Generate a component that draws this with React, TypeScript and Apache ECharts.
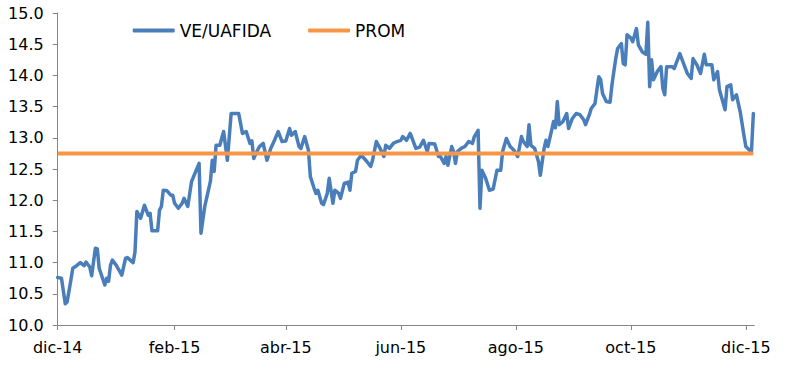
import React, { useEffect, useRef } from "react";
import * as echarts from "echarts";

const DATES = [
  "2014-12-01","2014-12-03","2014-12-05","2014-12-06","2014-12-08","2014-12-09","2014-12-11","2014-12-13","2014-12-15","2014-12-16",
  "2014-12-18","2014-12-19","2014-12-21","2014-12-22","2014-12-23","2014-12-26","2014-12-27","2014-12-28","2014-12-29","2014-12-30",
  "2015-01-01","2015-01-04","2015-01-06","2015-01-07","2015-01-10","2015-01-11","2015-01-12","2015-01-14","2015-01-16","2015-01-18",
  "2015-01-19","2015-01-20","2015-01-23","2015-01-24","2015-01-25","2015-01-26","2015-01-28","2015-01-30","2015-01-31","2015-02-01",
  "2015-02-03","2015-02-05","2015-02-06","2015-02-08","2015-02-10","2015-02-14","2015-02-15","2015-02-17","2015-02-20","2015-02-21",
  "2015-02-22","2015-02-23","2015-02-25","2015-02-27","2015-03-01","2015-03-03","2015-03-07","2015-03-09","2015-03-11","2015-03-13",
  "2015-03-14","2015-03-15","2015-03-17","2015-03-18","2015-03-20","2015-03-22","2015-03-24","2015-03-26","2015-03-28","2015-03-30",
  "2015-04-01","2015-04-03","2015-04-04","2015-04-06","2015-04-08","2015-04-09","2015-04-11","2015-04-13","2015-04-14","2015-04-16",
  "2015-04-17","2015-04-18","2015-04-20","2015-04-21","2015-04-23","2015-04-24","2015-04-26","2015-04-27","2015-04-29","2015-04-30",
  "2015-05-02","2015-05-04","2015-05-05","2015-05-06","2015-05-08","2015-05-09","2015-05-11","2015-05-14","2015-05-16","2015-05-17",
  "2015-05-19","2015-05-21","2015-05-23","2015-05-24","2015-05-26","2015-05-28","2015-05-30","2015-06-01","2015-06-02","2015-06-04",
  "2015-06-06","2015-06-08","2015-06-09","2015-06-11","2015-06-13","2015-06-15","2015-06-16","2015-06-19","2015-06-21","2015-06-22",
  "2015-06-24","2015-06-25","2015-06-26","2015-06-28","2015-06-29","2015-06-30","2015-07-01","2015-07-03","2015-07-05","2015-07-07",
  "2015-07-09","2015-07-10","2015-07-12","2015-07-13","2015-07-14","2015-07-16","2015-07-18","2015-07-20","2015-07-22","2015-07-24",
  "2015-07-25","2015-07-27","2015-07-29","2015-07-31","2015-08-02","2015-08-04","2015-08-05","2015-08-07","2015-08-08","2015-08-09",
  "2015-08-11","2015-08-13","2015-08-14","2015-08-16","2015-08-17","2015-08-18","2015-08-20","2015-08-21","2015-08-22","2015-08-23",
  "2015-08-24","2015-08-26","2015-08-28","2015-08-29","2015-08-31","2015-09-02","2015-09-04","2015-09-06","2015-09-07","2015-09-09",
  "2015-09-10","2015-09-12","2015-09-14","2015-09-15","2015-09-16","2015-09-18","2015-09-20","2015-09-21","2015-09-23","2015-09-24",
  "2015-09-26","2015-09-27","2015-09-28","2015-09-29","2015-10-01","2015-10-02","2015-10-04","2015-10-05","2015-10-07","2015-10-09",
  "2015-10-10","2015-10-11","2015-10-12","2015-10-13","2015-10-15","2015-10-17","2015-10-18","2015-10-19","2015-10-20","2015-10-23",
  "2015-10-24","2015-10-27","2015-10-29","2015-10-31","2015-11-02","2015-11-03","2015-11-05","2015-11-07","2015-11-09","2015-11-10",
  "2015-11-13","2015-11-14","2015-11-16","2015-11-17","2015-11-20","2015-11-21","2015-11-23","2015-11-24","2015-11-26","2015-11-28",
  "2015-11-30","2015-12-01","2015-12-03","2015-12-04","2015-12-05",
];

const VE_UAFIDA = [
  10.76,10.75,10.34,10.37,10.72,10.91,10.95,11.00,10.95,11.01,
  10.93,10.79,11.23,11.22,10.91,10.64,10.75,10.70,10.96,11.04,
  10.96,10.80,11.07,11.08,11.00,11.17,11.82,11.71,11.92,11.76,
  11.79,11.51,11.51,11.84,11.90,12.16,12.15,12.08,12.08,11.95,
  11.87,11.95,12.03,11.90,12.30,12.59,11.47,11.90,12.30,12.64,
  12.46,12.88,12.88,13.10,12.64,13.39,13.39,13.07,13.10,12.91,
  12.95,12.67,12.80,12.86,12.91,12.64,12.83,12.96,13.10,12.94,
  12.95,13.15,13.04,13.10,12.86,12.83,13.02,12.80,12.38,12.19,
  12.11,12.16,11.95,11.93,12.11,12.35,11.95,12.16,12.11,12.03,
  12.27,12.29,12.16,12.43,12.46,12.64,12.72,12.62,12.54,12.64,
  12.94,12.83,12.70,12.88,12.83,12.91,12.94,12.96,13.02,12.96,
  13.07,12.91,12.83,12.85,12.96,12.78,12.91,12.90,12.70,12.70,
  12.59,12.70,12.56,12.86,12.78,12.59,12.78,12.83,12.86,12.94,
  12.91,13.02,13.12,11.87,12.48,12.35,12.16,12.18,12.48,12.48,
  12.78,12.99,12.86,12.80,12.70,13.02,12.94,12.86,13.21,12.88,
  12.83,12.62,12.40,12.83,12.96,12.86,13.12,13.26,13.16,13.58,
  13.21,13.26,13.39,13.15,13.31,13.39,13.37,13.29,13.21,13.37,
  13.47,13.55,13.98,13.93,13.71,13.58,13.57,13.85,14.27,14.43,
  14.51,14.19,14.17,14.65,14.60,14.54,14.75,14.49,14.38,14.34,
  14.85,13.82,14.25,13.93,14.06,14.14,13.79,13.69,14.14,14.14,
  14.11,14.35,14.19,14.03,13.95,14.27,14.17,14.03,14.34,14.17,
  14.17,13.93,14.06,13.77,13.45,13.82,13.85,13.61,13.69,13.42,
  13.04,12.86,12.80,12.78,13.39,
];

const PROM = 12.75;

const X_TICK_DATES = ["2014-12-01","2015-02-01","2015-04-01","2015-06-01","2015-08-01","2015-10-01","2015-12-01"];
const X_TICK_LABELS = ["dic-14","feb-15","abr-15","jun-15","ago-15","oct-15","dic-15"];

const Y_MIN = 10;
const Y_MAX = 15;
const Y_STEP = 0.5;

const SERIES_NAMES = ["VE/UAFIDA", "PROM"];

const DAY_MS = 24 * 3600 * 1000;
const dayNumber = (s: string) => {
  const [y, m, d] = s.split("-").map(Number);
  return Math.round(Date.UTC(y, m - 1, d) / DAY_MS);
};

const FONT = "DejaVu Sans";

export default function App() {
  const ref = useRef<HTMLDivElement>(null);

  useEffect(() => {
    if (!ref.current) return;
    const chart = echarts.init(ref.current, undefined, { renderer: "svg" });
    const origin = dayNumber(DATES[0]);
    const xs = DATES.map((d) => dayNumber(d) - origin);
    const tickXs = X_TICK_DATES.map((d) => dayNumber(d) - origin);

    chart.setOption({
      animation: false,
      backgroundColor: "#ffffff",
      textStyle: { fontFamily: FONT },
      grid: { left: 57.7, right: 32.7, top: 13, bottom: 60, containLabel: false },
      legend: {
        left: 132.7,
        top: 22,
        padding: 0,
        itemWidth: 42,
        itemHeight: 4,
        itemGap: 37,
        textStyle: { fontSize: 17, color: "#000", fontFamily: FONT },
        data: SERIES_NAMES.map((n) => ({ name: n, icon: "roundRect" })),
      },
      xAxis: {
        type: "value",
        min: xs[0],
        max: xs[xs.length - 1] + 0.5,
        axisLine: { show: true, onZero: false, lineStyle: { color: "#868686", width: 1 } },
        axisTick: { show: true, customValues: tickXs, length: 5, lineStyle: { color: "#868686" } },
        axisLabel: {
          customValues: tickXs,
          formatter: (v: number) => {
            const i = tickXs.indexOf(Math.round(v));
            return i >= 0 ? X_TICK_LABELS[i] : "";
          },
          fontSize: 16,
          color: "#000",
          fontFamily: FONT,
          margin: 14,
          hideOverlap: false,
        },
        splitLine: { show: false },
      },
      yAxis: {
        type: "value",
        min: Y_MIN,
        max: Y_MAX,
        interval: Y_STEP,
        axisLine: { show: true, lineStyle: { color: "#868686", width: 1 } },
        axisTick: { show: true, length: 5, lineStyle: { color: "#868686" } },
        axisLabel: {
          formatter: (v: number) => v.toFixed(1),
          fontSize: 16,
          color: "#000",
          fontFamily: FONT,
          margin: 14,
        },
        splitLine: { show: false },
      },
      series: [
        {
          name: SERIES_NAMES[0],
          type: "line",
          data: xs.map((x, i) => [x, VE_UAFIDA[i]]),
          symbol: "none",
          showSymbol: false,
          lineStyle: { color: "#4A7EBB", width: 3.5, join: "round", cap: "round" },
          itemStyle: { color: "#4A7EBB" },
        },
        {
          name: SERIES_NAMES[1],
          type: "line",
          data: xs.map((x) => [x, PROM]),
          symbol: "none",
          showSymbol: false,
          lineStyle: { color: "#F79646", width: 4 },
          itemStyle: { color: "#F79646" },
        },
      ],
    });

    return () => chart.dispose();
  }, []);

  return (
    <div
      ref={ref}
      style={{ position: "fixed", left: 0, top: 0, width: 787, height: 385, background: "#fff" }}
    />
  );
}
